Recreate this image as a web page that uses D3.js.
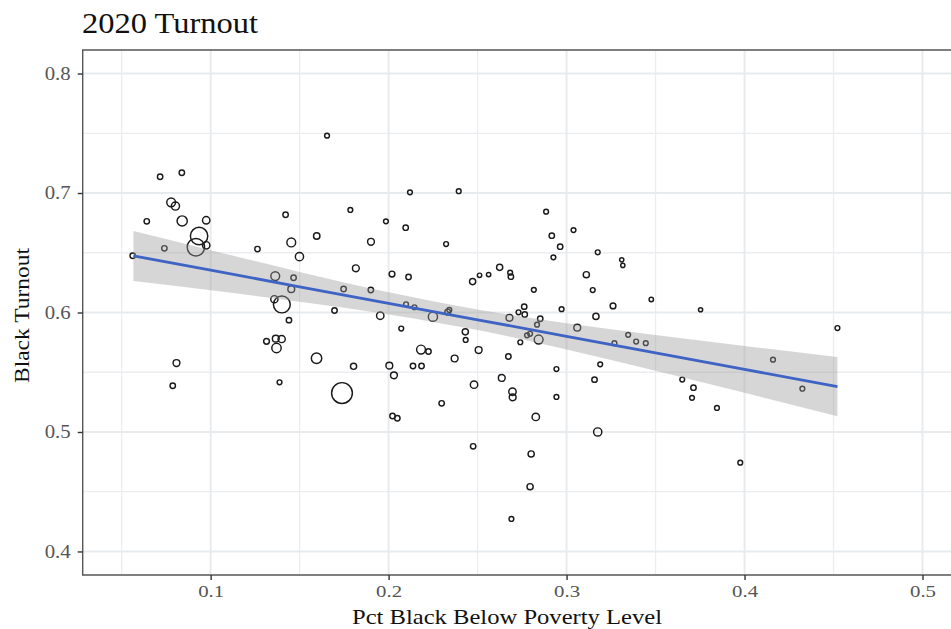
<!DOCTYPE html>
<html>
<head>
<meta charset="utf-8">
<script src="https://cdn.jsdelivr.net/npm/d3@7"></script>
<style>
  html, body { margin: 0; padding: 0; background: #ffffff; }
  svg { display: block; }
</style>
</head>
<body>
<svg id="chart" width="951" height="629"></svg>
<script>
// ---- Data ----
const pctPoverty = [
  0.0716, 0.0838, 0.0778, 0.0802, 0.0641, 0.0840, 0.0975, 0.0935, 0.0917, 0.0975,
  0.0740, 0.0562, 0.1421, 0.1596, 0.1453, 0.1499, 0.1263, 0.1785, 0.1363, 0.1466,
  0.1453, 0.1747, 0.1358, 0.1400, 0.1440, 0.1696, 0.1654, 0.2120, 0.2394, 0.1985,
  0.2096, 0.1901, 0.2323, 0.1816, 0.2019, 0.2112, 0.2472, 0.1900, 0.1953, 0.2098,
  0.2145, 0.2249, 0.2332, 0.2341, 0.2071, 0.2431, 0.2433, 0.2885, 0.3039, 0.2917,
  0.2964, 0.3175, 0.2926, 0.3310, 0.3316, 0.2624, 0.2511, 0.2562, 0.2683, 0.2687,
  0.3111, 0.2816, 0.3147, 0.3476, 0.3753, 0.2762, 0.2730, 0.2765, 0.2972, 0.3261,
  0.3165, 0.2679, 0.2852, 0.2834, 0.3060, 0.2778, 0.2795, 0.2843, 0.2740, 0.3346,
  0.3391, 0.3445, 0.3269, 0.2506, 0.2673, 0.2371, 0.1314, 0.1366, 0.1399, 0.1370,
  0.1387, 0.1595, 0.1803, 0.1738, 0.2004, 0.2030, 0.2137, 0.2185, 0.2182, 0.2224,
  0.2298, 0.2022, 0.2049, 0.2943, 0.3189, 0.2480, 0.2636, 0.2696, 0.2697, 0.2943,
  0.3157, 0.2827, 0.3175, 0.2475, 0.2801, 0.2795, 0.2690, 0.3650, 0.3713, 0.3705,
  0.3845, 0.4522, 0.4160, 0.4325, 0.3976, 0.0808, 0.0787
];
const blackTurnout = [
  0.7136, 0.7170, 0.6922, 0.6891, 0.6763, 0.6766, 0.6772, 0.6640, 0.6546, 0.6562,
  0.6537, 0.6475, 0.6818, 0.6640, 0.6586, 0.6467, 0.6531, 0.6858, 0.6305, 0.6291,
  0.6195, 0.6197, 0.6111, 0.6067, 0.5936, 0.6017, 0.7480, 0.7006, 0.7015, 0.6763,
  0.6710, 0.6592, 0.6573, 0.6370, 0.6322, 0.6297, 0.6259, 0.6188, 0.5973, 0.6069,
  0.6044, 0.5965, 0.6004, 0.6021, 0.5866, 0.5838, 0.5770, 0.6844, 0.6690, 0.6643,
  0.6551, 0.6504, 0.6462, 0.6441, 0.6394, 0.6378, 0.6311, 0.6317, 0.6333, 0.6300,
  0.6316, 0.6190, 0.6188, 0.6109, 0.6023, 0.6049, 0.6002, 0.5983, 0.6028, 0.6055,
  0.5967, 0.5956, 0.5948, 0.5898, 0.5873, 0.5809, 0.5822, 0.5774, 0.5751, 0.5813,
  0.5757, 0.5743, 0.5743, 0.5686, 0.5632, 0.5615, 0.5759, 0.5781, 0.5778, 0.5703,
  0.5416, 0.5617, 0.5550, 0.5326, 0.5555, 0.5474, 0.5552, 0.5552, 0.5690, 0.5674,
  0.5240, 0.5134, 0.5115, 0.5527, 0.5566, 0.5396, 0.5452, 0.5337, 0.5290, 0.5293,
  0.5438, 0.5126, 0.5000, 0.4880, 0.4816, 0.4542, 0.4272, 0.5439, 0.5371, 0.5286,
  0.5201, 0.5870, 0.5605, 0.5362, 0.4743, 0.5577, 0.5387
];
const popWeight = [
  9, 9, 20.7, 18.3, 9, 26.9, 15.3, 71.5, 71.5, 15.3,
  9, 9, 9, 12, 20.7, 18.3, 9, 7.4, 20.7, 9,
  13.2, 9, 14.6, 67, 9, 9, 7.4, 7.4, 7.4, 7.4,
  9, 13.2, 7.4, 13.2, 10, 9, 11.3, 9, 15.3, 7.4,
  7.4, 22.3, 10, 7.4, 7.4, 11.3, 7.4, 7.4, 7.4, 9,
  9, 7.4, 7.4, 6, 6, 11.3, 6.5, 6.5, 7.4, 9,
  11.3, 7.4, 7.4, 6.5, 6, 9, 7.4, 9, 7.4, 10,
  11.3, 13.2, 9, 7.4, 13.2, 7.4, 7.4, 20.7, 7.4, 7.4,
  7.4, 7.4, 7.4, 13.2, 9, 13.2, 10, 13.2, 14.6, 23.2,
  7.4, 27.8, 11.3, 100, 13.2, 13.2, 9, 9, 20.7, 9,
  9, 9, 9, 7.4, 7.4, 15.3, 13.2, 15.3, 13.2, 7.4,
  9, 15.3, 18.3, 9, 11.3, 11.3, 7.4, 7.4, 9, 7.4,
  7.4, 7.4, 7.4, 7.4, 7.4, 13.2, 9
];
// fitted regression line and 95% band
const fitX     = [0.0566, 0.10, 0.15, 0.20, 0.25, 0.30, 0.35, 0.40, 0.4522];
const fitY     = [0.6473, 0.6354, 0.6215, 0.6077, 0.5939, 0.5801, 0.5662, 0.5524, 0.5380];
const fitLower = [0.6264, 0.6186, 0.6090, 0.5984, 0.5853, 0.5691, 0.5512, 0.5328, 0.5132];
const fitUpper = [0.6682, 0.6522, 0.6340, 0.6170, 0.6026, 0.5911, 0.5812, 0.5720, 0.5628];

const xTicks = [0.1, 0.2, 0.3, 0.4, 0.5];
const xMinor = [0.05, 0.15, 0.25, 0.35, 0.45];
const yTicks = [0.4, 0.5, 0.6, 0.7, 0.8];
const yMinor = [0.45, 0.55, 0.65, 0.75];

const titleText = "2020 Turnout";
const xTitle = "Pct Black Below Poverty Level";
const yTitle = "Black Turnout";

// ---- Layout ----
const svg = d3.select("#chart");
const panel = { left: 82.7, top: 50, bottom: 575, right: 962 };

const x = d3.scaleLinear().domain([0.0281, 0.5222]).range([panel.left, panel.right]);
const y = d3.scaleLinear().domain([0.3803, 0.8197]).range([panel.bottom, panel.top]);
const r = d3.scaleSqrt().domain([0, 100]).range([0, 11]);

const serif = "'Liberation Serif', 'Times New Roman', Times, serif";

svg.append("rect")
  .attr("x", panel.left).attr("y", panel.top)
  .attr("width", panel.right - panel.left).attr("height", panel.bottom - panel.top)
  .attr("fill", "#ffffff");

const grid = svg.append("g");
grid.selectAll(".xminor").data(xMinor).join("line")
  .attr("x1", d => x(d)).attr("x2", d => x(d))
  .attr("y1", panel.top).attr("y2", panel.bottom)
  .attr("stroke", "#ebedf0").attr("stroke-width", 1.3);
grid.selectAll(".yminor").data(yMinor).join("line")
  .attr("y1", d => y(d)).attr("y2", d => y(d))
  .attr("x1", panel.left).attr("x2", panel.right)
  .attr("stroke", "#ebedf0").attr("stroke-width", 1.3);
grid.selectAll(".xmajor").data(xTicks).join("line")
  .attr("x1", d => x(d)).attr("x2", d => x(d))
  .attr("y1", panel.top).attr("y2", panel.bottom)
  .attr("stroke", "#e8ebee").attr("stroke-width", 2);
grid.selectAll(".ymajor").data(yTicks).join("line")
  .attr("y1", d => y(d)).attr("y2", d => y(d))
  .attr("x1", panel.left).attr("x2", panel.right)
  .attr("stroke", "#e8ebee").attr("stroke-width", 2);

// points
const pts = pctPoverty.map((v, i) => ({ x: v, y: blackTurnout[i], w: popWeight[i] }));
svg.append("g").selectAll("circle").data(pts).join("circle")
  .attr("cx", d => x(d.x)).attr("cy", d => y(d.y))
  .attr("r", d => Math.max(1, r(d.w) - 0.6))
  .attr("fill", "none").attr("stroke", "#1a1a1a").attr("stroke-width", 1.45);

// ribbon
const band = fitX.map((v, i) => ({ x: v, lo: fitLower[i], hi: fitUpper[i], y: fitY[i] }));
svg.append("path").datum(band)
  .attr("d", d3.area().x(d => x(d.x)).y0(d => y(d.lo)).y1(d => y(d.hi)).curve(d3.curveMonotoneX))
  .attr("fill", "#999999").attr("fill-opacity", 0.4);

// fitted line
svg.append("path").datum(band)
  .attr("d", d3.line().x(d => x(d.x)).y(d => y(d.y)))
  .attr("fill", "none").attr("stroke", "#3f63c4").attr("stroke-width", 2.8);

// panel border
svg.append("path")
  .attr("d", `M${panel.right},${panel.top}H${panel.left}V${panel.bottom}H${panel.right}`)
  .attr("fill", "none").attr("stroke", "#555555").attr("stroke-width", 1.4);

// axes
const xAxis = d3.axisBottom(x).tickValues(xTicks).tickSize(5).tickPadding(5).tickFormat(d3.format(".1f"));
const gx = svg.append("g").attr("transform", `translate(0,${panel.bottom})`).call(xAxis);
gx.select(".domain").remove();
gx.selectAll(".tick line").attr("stroke", "#333333").attr("stroke-width", 1.4);
gx.selectAll(".tick text").attr("fill", "#555555")
  .attr("textLength", 26).attr("lengthAdjust", "spacingAndGlyphs")
  .style("font-family", serif).style("font-size", "17px");

const yAxis = d3.axisLeft(y).tickValues(yTicks).tickSize(5).tickPadding(7).tickFormat(d3.format(".1f"));
const gy = svg.append("g").attr("transform", `translate(${panel.left},0)`).call(yAxis);
gy.select(".domain").remove();
gy.selectAll(".tick line").attr("stroke", "#333333").attr("stroke-width", 1.4);
gy.selectAll(".tick text").attr("fill", "#555555")
  .attr("textLength", 26).attr("lengthAdjust", "spacingAndGlyphs")
  .style("font-family", serif).style("font-size", "18px");

// titles
svg.append("text").text(titleText)
  .attr("x", 82).attr("y", 33)
  .attr("textLength", 176).attr("lengthAdjust", "spacingAndGlyphs")
  .style("font-family", serif).style("font-size", "29px").attr("fill", "#111");

svg.append("text").text(xTitle)
  .attr("x", 352).attr("y", 624)
  .attr("textLength", 310).attr("lengthAdjust", "spacingAndGlyphs")
  .style("font-family", serif).style("font-size", "21px").attr("fill", "#111");

svg.append("text").text(yTitle)
  .attr("transform", "translate(29,383) rotate(-90)")
  .attr("textLength", 135).attr("lengthAdjust", "spacingAndGlyphs")
  .style("font-family", serif).style("font-size", "22px").attr("fill", "#111");
</script>
</body>
</html>
